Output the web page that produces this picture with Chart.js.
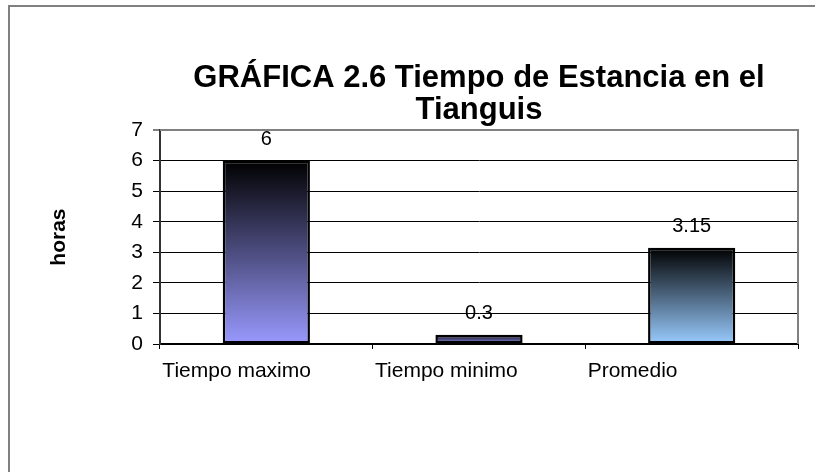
<!DOCTYPE html>
<html>
<head>
<meta charset="utf-8">
<script src="https://cdn.jsdelivr.net/npm/chart.js@4.4.1/dist/chart.umd.min.js"></script>
<style>
  html, body { margin: 0; padding: 0; background: #fff; }
  #wrap { position: relative; width: 815px; height: 472px; overflow: hidden; }
  #frame { position: absolute; left: 8px; top: 5px; width: 900px; height: 600px;
           border-left: 2px solid #808080; border-top: 2px solid #808080; }
  #chart { position: absolute; left: 0; top: 0; }
</style>
</head>
<body>
<div id="wrap">
  <div id="frame"></div>
  <canvas id="chart" width="815" height="472"></canvas>
</div>
<script>
// data
const categories = ['Tiempo maximo', 'Tiempo minimo', 'Promedio'];
const hours = [6, 0.3, 3.15];
const yTicks = [0, 1, 2, 3, 4, 5, 6, 7];

// bottom colour of each bar gradient (top is black)
const barColors = ['#9999FF', '#9999FF', '#99CCFF'];

const FONT = '"Liberation Sans", Arial, sans-serif';

// gradient from black at the top of each bar to its light colour at the base
function barGradient(ctx) {
    const chart = ctx.chart;
    const y = chart.scales.y;
    if (!chart.chartArea || !y || ctx.type !== 'data') return barColors[ctx.dataIndex];
    const top = y.getPixelForValue(hours[ctx.dataIndex]);
    const base = y.getPixelForValue(0);
    const g = chart.ctx.createLinearGradient(0, top, 0, base);
    g.addColorStop(0, '#000000');
    g.addColorStop(1, barColors[ctx.dataIndex]);
    return g;
}

// grey frame around the plot area
const plotFrame = {
    id: 'plotFrame',
    beforeDatasetsDraw(chart) {
        const a = chart.chartArea;
        const c = chart.ctx;
        c.save();
        c.strokeStyle = '#808080';
        c.lineWidth = 2;
        c.beginPath();
        c.moveTo(a.left, a.top);
        c.lineTo(a.right, a.top);
        c.lineTo(a.right, a.bottom);
        c.stroke();
        c.restore();
    }
};

// value labels above bars
const valueLabels = {
    id: 'valueLabels',
    afterDatasetsDraw(chart) {
        const c = chart.ctx;
        const meta = chart.getDatasetMeta(0);
        c.save();
        c.font = '20px ' + FONT;
        c.fillStyle = '#000';
        c.textAlign = 'center';
        c.textBaseline = 'middle';
        meta.data.forEach((bar, i) => {
            c.fillText(String(hours[i]), bar.x, bar.y - 21);
        });
        c.restore();
    }
};

new Chart(document.getElementById('chart').getContext('2d'), {
    type: 'bar',
    data: {
        labels: categories,
        datasets: [{
            data: hours,
            backgroundColor: barGradient,
            borderColor: '#000',
            borderWidth: 2.5,
            borderSkipped: false,
            barPercentage: 0.41,
            categoryPercentage: 1
        }]
    },
    options: {
        responsive: false,
        animation: false,
        layout: { padding: { left: 0, right: 17, top: 62, bottom: 88 } },
        plugins: {
            legend: { display: false },
            tooltip: { enabled: false },
            title: {
                display: true,
                fullSize: false,
                text: ['GRÁFICA 2.6 Tiempo de Estancia en el', 'Tianguis'],
                color: '#000',
                font: { family: FONT, size: 31, weight: 'bold', lineHeight: 1.05 },
                padding: { top: 0, bottom: 3 }
            }
        },
        scales: {
            x: {
                afterFit(scale) { scale.height = 40; },
                grid: {
                    offset: true,
                    drawOnChartArea: false,
                    color: '#000',
                    tickLength: 5
                },
                border: { color: '#000', width: 2 },
                ticks: {
                    color: '#000',
                    font: { family: FONT, size: 21 },
                    align: 'start',
                    labelOffset: -104,
                    padding: 10,
                    maxRotation: 0,
                    autoSkip: false
                }
            },
            y: {
                min: 0,
                max: 7,
                afterFit(scale) { scale.width = 160; },
                afterBuildTicks(scale) { scale.ticks = yTicks.map(v => ({ value: v })); },
                grid: {
                    color: ctx => (ctx.tick && ctx.tick.value === 7) ? '#808080' : '#000',
                    lineWidth: ctx => (ctx.tick && ctx.tick.value === 7) ? 2 : 1,
                    tickLength: 7
                },
                border: { color: '#333', width: 2 },
                ticks: {
                    color: '#000',
                    font: { family: FONT, size: 21 },
                    padding: 10
                },
                title: {
                    display: true,
                    text: 'horas',
                    color: '#000',
                    font: { family: FONT, size: 21, weight: 'bold' },
                    padding: { top: 47, bottom: 0 }
                }
            }
        }
    },
    plugins: [plotFrame, valueLabels]
});
</script>
</body>
</html>
